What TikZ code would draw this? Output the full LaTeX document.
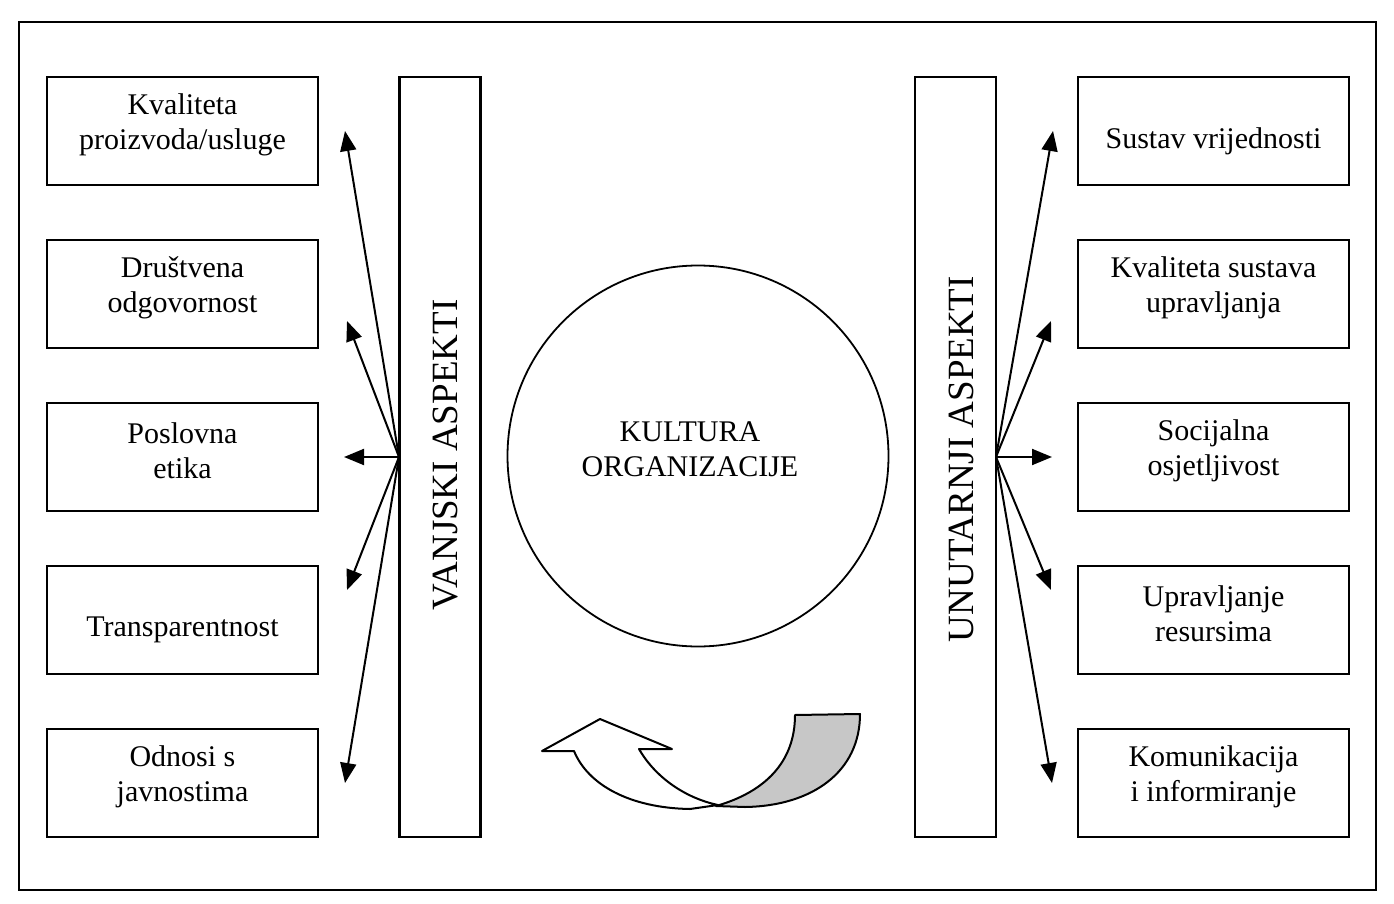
\documentclass[tikz,border=0pt]{standalone}
\usepackage{fontspec}
\setmainfont{Liberation Serif}
\usetikzlibrary{arrows.meta}
\begin{document}
\begin{tikzpicture}[x=1pt,y=-1pt,
  box/.style={draw,line width=2.2pt,minimum width=271pt,minimum height=108pt,inner sep=0pt},
  btxt/.style={inner sep=0pt,align=center,font=\fontsize{30}{35}\selectfont},
  bar/.style={draw,line width=2.2pt,minimum width=81pt,minimum height=760pt,inner sep=0pt},
  vtext/.style={rotate=90,font=\fontsize{37}{40}\selectfont},
  arr/.style={line width=2pt,-{Triangle[length=20pt,width=16pt]}},
  arrshape/.style={line width=2pt,line join=round}]
\useasboundingbox (0,0) rectangle (1394,904);
\draw[line width=2.2pt] (19,22) rectangle (1376,890);
% left boxes
\node[box] (L1) at (182.5,131) {};
\node[box] (L2) at (182.5,294) {};
\node[box] (L3) at (182.5,457) {};
\node[box] (L4) at (182.5,620) {};
\node[box] (L5) at (182.5,783) {};
\node[btxt] (L1t) at (182.5,125) {Kvaliteta\\proizvoda/usluge};
\node[btxt] (L2t) at (182.5,288) {Društvena\\odgovornost};
\node[btxt] (L3t) at (182.5,451) {Poslovna\\etika};
\node[btxt] (L4t) at (182.5,630) {Transparentnost};
\node[btxt] (L5t) at (182.5,777) {Odnosi s\\javnostima};
% right boxes
\node[box] (R1) at (1213.5,131) {};
\node[box] (R2) at (1213.5,294) {};
\node[box] (R3) at (1213.5,457) {};
\node[box] (R4) at (1213.5,620) {};
\node[box] (R5) at (1213.5,783) {};
\node[btxt] (R1t) at (1213.5,141) {Sustav vrijednosti};
\node[btxt] (R2t) at (1213.5,288) {Kvaliteta sustava\\upravljanja};
\node[btxt] (R3t) at (1213.5,451) {Socijalna\\osjetljivost};
\node[btxt] (R4t) at (1213.5,614) {Upravljanje\\resursima};
\node[btxt] (R5t) at (1213.5,777) {Komunikacija\\i informiranje};
% bars
\node[bar] (VB) at (440,457) {};
\node[vtext] (VT) at (446,455) {VANJSKI ASPEKTI};
\node[bar] (UB) at (955.5,457) {};
\node[vtext] (UT) at (961,459) {UNUTARNJI ASPEKTI};
% circle
\node[draw,circle,line width=1.8pt,minimum size=381pt,inner sep=0pt] (C) at (698,456) {};
\node[btxt] (Ct) at (690,449) {KULTURA\\ORGANIZACIJE};
% arrows left
\coordinate (oL) at (399,457);
\coordinate (tL1) at (345,131);
\coordinate (tL2) at (347,321);
\coordinate (tL3) at (344,457);
\coordinate (tL4) at (347,590);
\coordinate (tL5) at (345,783);
\foreach \t in {tL1,tL2,tL3,tL4,tL5} \draw[arr] (oL) -- (\t);
% arrows right
\coordinate (oR) at (996,457);
\coordinate (tR1) at (1053,131);
\coordinate (tR2) at (1051,321);
\coordinate (tR3) at (1052,457);
\coordinate (tR4) at (1051,590);
\coordinate (tR5) at (1052,783);
\foreach \t in {tR1,tR2,tR3,tR4,tR5} \draw[arr] (oR) -- (\t);
% curved arrow
\draw[arrshape,fill=white] (600,719) -- (672,749) -- (639,749)
  .. controls (655,777) and (685,798) .. (718,805)
  -- (690,809)
  .. controls (630,808) and (588,785) .. (574,751)
  -- (542,751) -- cycle;
\draw[arrshape,fill=black!22] (795,715) -- (860,714)
  .. controls (860,772) and (812,806) .. (745,807)
  -- (716,806)
  .. controls (765,792) and (795,762) .. (795,715) -- cycle;
\end{tikzpicture}
\end{document}
